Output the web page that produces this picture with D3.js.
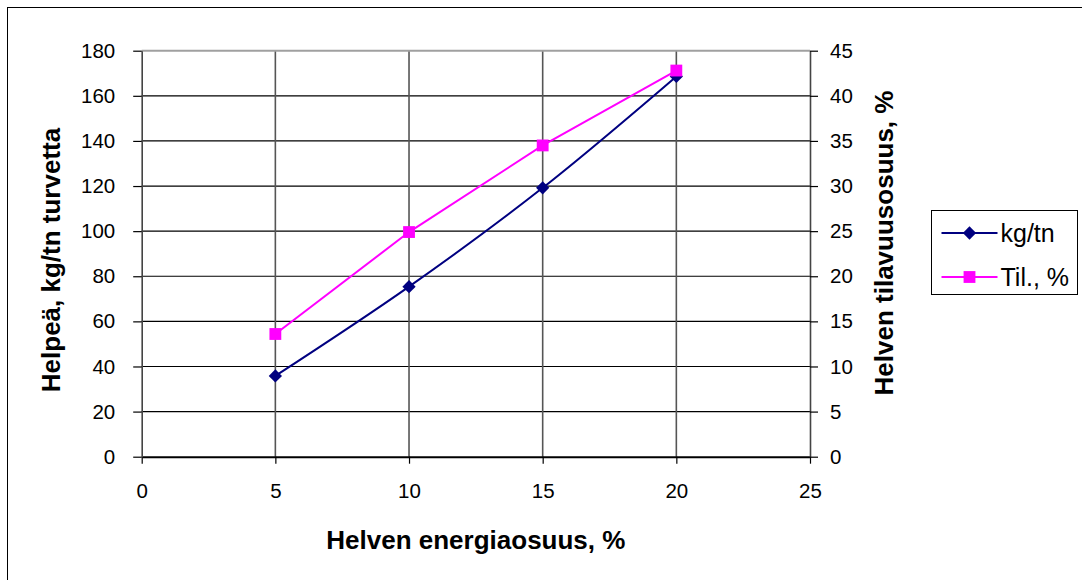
<!DOCTYPE html>
<html>
<head>
<meta charset="utf-8">
<script src="https://cdn.jsdelivr.net/npm/d3@7"></script>
<style>
  body { margin: 0; background: #fff; }
  text { font-family: "Liberation Sans", Arial, sans-serif; fill: #000; }
</style>
</head>
<body>
<svg class="chart" width="1082" height="580"></svg>
<script>
// data
var energyShare = [5, 10, 15, 20];
var kgPerTon = [35.8, 75.4, 119.2, 168.6];
var volumeShare = [13.6, 24.9, 34.5, 42.8];
var xTicks = [0, 5, 10, 15, 20, 25];
var leftTicks = [0, 20, 40, 60, 80, 100, 120, 140, 160, 180];
var rightTicks = [0, 5, 10, 15, 20, 25, 30, 35, 40, 45];
var seriesNames = ["kg/tn", "Til., %"];

var svg = d3.select("svg.chart");

// plot area
var plotL = 141.7, plotR = 810, plotT = 50.7, plotB = 456.7;

var x = d3.scaleLinear().domain([0, 25]).range([plotL, plotR]);
var yL = d3.scaleLinear().domain([0, 180]).range([plotB, plotT]);
var yR = d3.scaleLinear().domain([0, 45]).range([plotB, plotT]);

// outer chart border (right/bottom edges fall off the picture)
svg.append("rect")
  .attr("x", 7.5).attr("y", 7.5)
  .attr("width", 1100).attr("height", 600)
  .attr("fill", "none").attr("stroke", "#000");

// horizontal gridlines
svg.append("g").selectAll("line")
  .data(leftTicks.filter(function(d) { return d > 0 && d < 180; }))
  .enter().append("line")
  .attr("x1", plotL).attr("x2", plotR)
  .attr("y1", function(d) { return yL(d); })
  .attr("y2", function(d) { return yL(d); })
  .attr("stroke", "#000").attr("stroke-width", 1.2);

// vertical gridlines
svg.append("g").selectAll("line")
  .data(xTicks.filter(function(d) { return d > 0 && d < 25; }))
  .enter().append("line")
  .attr("x1", function(d) { return x(d); }).attr("x2", function(d) { return x(d); })
  .attr("y1", plotT).attr("y2", plotB)
  .attr("stroke", "#555").attr("stroke-width", 1.6);

// top border of plot area
svg.append("line")
  .attr("x1", plotL).attr("x2", plotR).attr("y1", plotT).attr("y2", plotT)
  .attr("stroke", "#a0a0a0").attr("stroke-width", 2);

// axes
var gx = svg.append("g").attr("transform", "translate(0," + plotB + ")")
  .call(d3.axisBottom(x).tickValues(xTicks).tickSize(7).tickPadding(20).tickSizeOuter(0));
var gl = svg.append("g").attr("transform", "translate(" + plotL + ",0)")
  .call(d3.axisLeft(yL).tickValues(leftTicks).tickSize(8.5).tickPadding(18).tickSizeOuter(0));
var gr = svg.append("g").attr("transform", "translate(" + plotR + ",0)")
  .call(d3.axisRight(yR).tickValues(rightTicks).tickSize(8).tickPadding(12).tickSizeOuter(0));

[gx, gl, gr].forEach(function(g) {
  g.attr("font-family", null).attr("font-size", null);
  g.selectAll("text").style("font-size", "20.5px");
});
gx.select(".domain").attr("stroke", "#000").attr("stroke-width", 2);
gx.selectAll(".tick line").attr("stroke", "#000").attr("stroke-width", 1.2);
gl.select(".domain").attr("stroke", "#444").attr("stroke-width", 1.6);
gl.selectAll(".tick line").attr("stroke", "#000").attr("stroke-width", 1.2);
gr.select(".domain").attr("stroke", "#444").attr("stroke-width", 1.6);
gr.selectAll(".tick line").attr("stroke", "#000").attr("stroke-width", 1.2);

// axis titles
svg.append("text")
  .attr("x", (plotL + plotR) / 2).attr("y", 549)
  .attr("text-anchor", "middle")
  .style("font-size", "26px").style("font-weight", "bold")
  .text("Helven energiaosuus, %");

svg.append("text")
  .attr("transform", "translate(60,260) rotate(-90)")
  .attr("text-anchor", "middle")
  .style("font-size", "26px").style("font-weight", "bold")
  .text("Helpeä, kg/tn turvetta");

svg.append("text")
  .attr("transform", "translate(893,243) rotate(-90)")
  .attr("text-anchor", "middle")
  .style("font-size", "26px").style("font-weight", "bold")
  .text("Helven tilavuusosuus, %");

// series
var kgData = energyShare.map(function(d, i) { return [d, kgPerTon[i]]; });
var volData = energyShare.map(function(d, i) { return [d, volumeShare[i]]; });

var diamond = d3.symbol().type(d3.symbolSquare).size(88);
var square = d3.symbol().type(d3.symbolSquare).size(140);

svg.append("path")
  .datum(kgData)
  .attr("fill", "none").attr("stroke", "#000080").attr("stroke-width", 2)
  .attr("d", d3.line()
    .x(function(d) { return x(d[0]); })
    .y(function(d) { return yL(d[1]); })
    .curve(d3.curveCatmullRom));

svg.append("path")
  .datum(volData)
  .attr("fill", "none").attr("stroke", "#ff00ff").attr("stroke-width", 2)
  .attr("d", d3.line()
    .x(function(d) { return x(d[0]); })
    .y(function(d) { return yR(d[1]); }));

svg.append("g").selectAll("path")
  .data(kgData)
  .enter().append("path")
  .attr("d", diamond)
  .attr("transform", function(d) { return "translate(" + x(d[0]) + "," + yL(d[1]) + ") rotate(45)"; })
  .attr("fill", "#000080");

svg.append("g").selectAll("path")
  .data(volData)
  .enter().append("path")
  .attr("d", square)
  .attr("transform", function(d) { return "translate(" + x(d[0]) + "," + yR(d[1]) + ")"; })
  .attr("fill", "#ff00ff");

// legend
var legend = svg.append("g").attr("transform", "translate(931.5,210.5)");
legend.append("rect")
  .attr("width", 146).attr("height", 84)
  .attr("fill", "#fff").attr("stroke", "#000");

var colors = ["#000080", "#ff00ff"];
var shapes = [diamond, square];
var item = legend.selectAll("g.item")
  .data(seriesNames)
  .enter().append("g").attr("class", "item")
  .attr("transform", function(d, i) { return "translate(0," + (22.5 + i * 44) + ")"; });
item.append("line")
  .attr("x1", 10).attr("x2", 66)
  .attr("stroke", function(d, i) { return colors[i]; }).attr("stroke-width", 2);
item.append("path")
  .attr("d", function(d, i) { return shapes[i](); })
  .attr("transform", function(d, i) { return "translate(38,0)" + (i === 0 ? " rotate(45)" : ""); })
  .attr("fill", function(d, i) { return colors[i]; });
item.append("text")
  .attr("x", 69).attr("y", 9)
  .style("font-size", "25px")
  .text(function(d) { return d; });
</script>
</body>
</html>
